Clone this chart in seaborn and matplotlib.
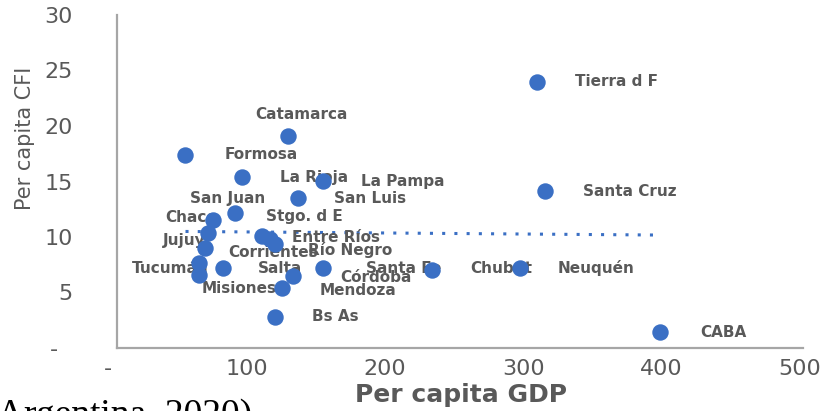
import numpy as np
import pandas as pd
import seaborn as sns
import matplotlib.pyplot as plt

# Provinces: per capita GDP vs per capita CFI
provinces = ["Tierra d F", "Catamarca", "Formosa", "La Rioja", "La Pampa", "San Luis",
             "Santa Cruz", "San Juan", "Stgo. d E", "Entre Ríos", "Río Negro", "Chaco",
             "Jujuy", "Corrientes", "Tucumán", "Salta", "Misiones", "Córdoba",
             "Mendoza", "Santa Fe", "Chubut", "Neuquén", "Bs As", "CABA"]
gdp = [310, 130, 56, 97, 155, 137,
       316, 92, 111, 117, 121, 76,
       72, 70, 66, 83, 66, 134,
       126, 155, 234, 298, 121, 399]
cfi = [24.0, 19.1, 17.4, 15.4, 15.0, 13.5,
       14.1, 12.2, 10.1, 9.8, 9.4, 11.5,
       10.4, 9.0, 7.7, 7.2, 6.6, 6.5,
       5.4, 7.2, 7.0, 7.2, 2.8, 1.4]

x_ticks = [0, 100, 200, 300, 400, 500]
x_ticklabels = ["-", "100", "200", "300", "400", "500"]
y_ticks = [0, 5, 10, 15, 20, 25, 30]
y_ticklabels = ["-  ", "5", "10", "15", "20", "25", "30"]

# label placement (pixels from the dot, horizontal alignment)
label_pos = {
    "Tierra d F": (38, 0, "left"), "Catamarca": (14, 21, "center"),
    "Formosa": (39, 0, "left"), "La Rioja": (38, 0, "left"),
    "La Pampa": (38, 0, "left"), "San Luis": (36, 0, "left"),
    "Santa Cruz": (38, 0, "left"), "San Juan": (30, 14, "right"),
    "Stgo. d E": (4, 19, "left"), "Entre Ríos": (22, 2, "left"),
    "Río Negro": (33, -6, "left"), "Chaco": (4, 3, "right"),
    "Jujuy": (-2, -8, "right"), "Corrientes": (23, -4, "left"),
    "Tucumán": (-67, -6, "left"), "Salta": (35, 0, "left"),
    "Misiones": (2, -14, "left"), "Córdoba": (47, -2, "left"),
    "Mendoza": (37, -2, "left"), "Santa Fe": (43, 0, "left"),
    "Chubut": (38, 2, "left"), "Neuquén": (37, 0, "left"),
    "Bs As": (37, 0, "left"), "CABA": (40, 0, "left"),
}

df = pd.DataFrame({"province": provinces, "gdp": gdp, "cfi": cfi})

sns.set_theme(style="white")
plt.rcParams["font.family"] = ["DejaVu Sans"]

blue = "#3A6FC4"
grey = "#595959"

fig = plt.figure(figsize=(8.33, 4.11), dpi=100)
ax = fig.add_axes([108 / 833, 63 / 411, 695 / 833, 333 / 411])

# dotted linear trend line
sns.regplot(data=df, x="gdp", y="cfi", scatter=False, ci=None, truncate=True, ax=ax,
            line_kws=dict(color=blue, lw=2.2, ls=(0, (1, 3))))
sns.scatterplot(data=df, x="gdp", y="cfi", s=140, color=blue, linewidth=0, ax=ax, zorder=3)

for _, row in df.iterrows():
    dx, dy, ha = label_pos[row["province"]]
    ax.annotate(row["province"], (row["gdp"], row["cfi"]), xytext=(dx, dy),
                textcoords="offset pixels", ha=ha, va="center", fontsize=11,
                fontweight="bold", color=grey, zorder=2)

ax.set_xlim(0, 502.2)
ax.set_ylim(0, 30)
ax.set_xticks(x_ticks)
ax.set_xticklabels(x_ticklabels)
ax.set_yticks(y_ticks)
ax.set_yticklabels(y_ticklabels)
ax.tick_params(length=0, labelsize=16, labelcolor=grey)
ax.tick_params(axis="y", pad=32)
ax.tick_params(axis="x", pad=8)

for side in ["top", "right"]:
    ax.spines[side].set_visible(False)
ax.spines["left"].set_position(("data", 6.5))
ax.spines["bottom"].set_bounds(6.5, 502.2)
for side in ["left", "bottom"]:
    ax.spines[side].set_color("#A6A6A6")
    ax.spines[side].set_linewidth(1.6)

ax.set_xlabel("Per capita GDP", fontsize=18, fontweight="bold", color=grey, va="top")
ax.xaxis.set_label_coords(0.508, -0.105)
ax.set_ylabel("")
fig.text(25 / 833, (411 - 138) / 411, "Per capita CFI", rotation=90, ha="center",
         va="center", fontsize=15, color=grey)

# cut-off caption line under the chart
fig.text(252 / 833, (411 - 425) / 411, "Argentina, 2020)", family="Liberation Serif",
         fontsize=27, ha="right", va="baseline", color="black")

fig.savefig("out.png", dpi=100)
